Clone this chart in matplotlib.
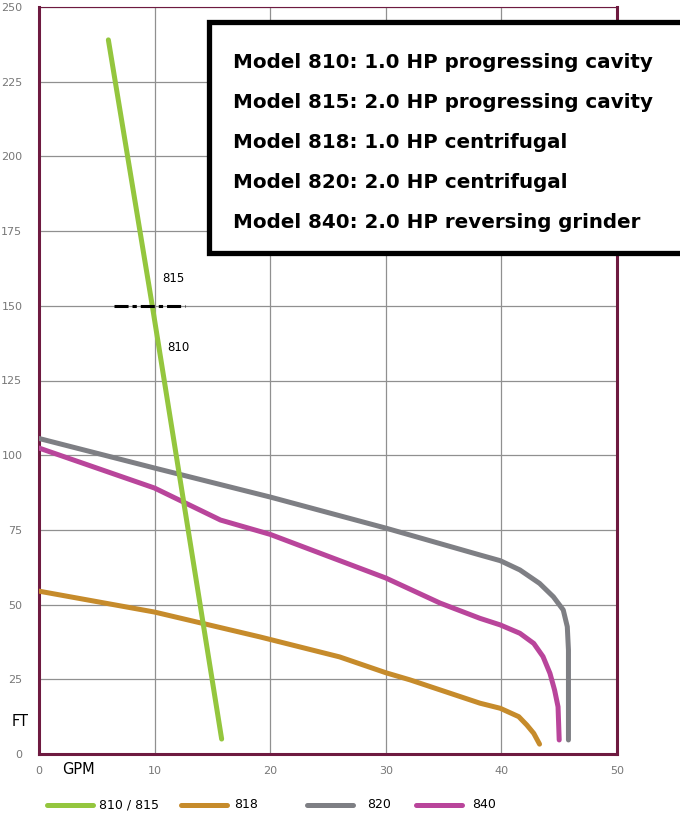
import numpy as np
import matplotlib.pyplot as plt
from matplotlib.patches import Rectangle
from matplotlib.lines import Line2D

# curve points (GPM, FT)
gpm_810 = [6.0, 9.8, 15.8]
ft_810 = [239, 150, 5]

gpm_818 = [0, 10, 19.1, 26, 30, 32.1, 38.15, 39.9, 41.5, 42.2, 42.8, 43.3]
ft_818 = [54.5, 47.5, 39.2, 32.5, 27.2, 24.8, 17.0, 15.3, 12.5, 9.7, 6.9, 3.3]

gpm_820 = [0, 10, 20, 30, 38.15, 39.9, 41.6, 43.3, 44.5, 45.35, 45.7, 45.8, 45.8]
ft_820 = [105.6, 95.7, 86, 75.6, 66.6, 64.7, 61.6, 57.1, 52.6, 48.2, 42.6, 34.8, 4.7]

gpm_840 = [0, 10, 15.7, 20, 30, 34.7, 38.15, 39.9, 41.6, 42.8, 43.6, 44.2, 44.6, 44.9, 45.0]
ft_840 = [102.4, 89, 78.3, 73.5, 58.9, 50.5, 45.4, 43.2, 40.4, 37.0, 32.6, 27.0, 21.4, 15.8, 4.7]

split_x = [6.5, 12.6]
split_y = 150

models = ["Model 810: 1.0 HP progressing cavity",
          "Model 815: 2.0 HP progressing cavity",
          "Model 818: 1.0 HP centrifugal",
          "Model 820: 2.0 HP centrifugal",
          "Model 840: 2.0 HP reversing grinder"]

legend_labels = ["810 / 815", "818", "820", "840"]

green = "#94c63e"
orange = "#c68b2b"
grey = "#7e7f84"
magenta = "#b9459b"
maroon = "#6e1a40"

fig = plt.figure(figsize=(6.8, 8.14), dpi=100)
ax = fig.add_axes([39 / 680, 1 - 754 / 814, (617 - 39) / 680, (754 - 7) / 814])
ax.set_xlim(0, 50)
ax.set_ylim(0, 250)
ax.set_xticks(range(0, 51, 10))
ax.set_yticks(range(0, 251, 25))
ax.grid(True, color="#909090", linewidth=0.9)
ax.tick_params(length=0, labelsize=8, labelcolor="#777777")
ax.tick_params(axis="x", pad=9)
ax.tick_params(axis="y", pad=12)
for s in ["left", "right", "bottom"]:
    ax.spines[s].set_color(maroon)
    ax.spines[s].set_linewidth(2.2)
ax.spines["top"].set_color(maroon)
ax.spines["top"].set_linewidth(0.8)

kw = dict(linewidth=3.6, solid_capstyle="round", solid_joinstyle="round", zorder=3)
ax.plot(gpm_818, ft_818, color=orange, **kw)
ax.plot(gpm_820, ft_820, color=grey, **kw)
ax.plot(gpm_840, ft_840, color=magenta, **kw)
ax.plot(gpm_810, ft_810, color=green, **kw)

ax.plot(split_x, [split_y, split_y], color="black", linewidth=2.2,
        dashes=[4.6, 1.3, 1.4, 1.3], zorder=4)
ax.text(10.7, 159, "815", fontsize=8.5, ha="left", va="center")
ax.text(11.1, 136, "810", fontsize=8.5, ha="left", va="center")

fig.text(20 / 680, 1 - 722 / 814, "FT", fontsize=10.5, ha="center", va="center")
fig.text(78 / 680, 1 - 770 / 814, "GPM", fontsize=10.5, ha="center", va="center")

# model box
box = Rectangle((209 / 680, 1 - 253 / 814), 480 / 680, 231 / 814,
                transform=fig.transFigure, facecolor="white",
                edgecolor="black", linewidth=3.8, clip_on=False, zorder=10)
fig.add_artist(box)
for i, m in enumerate(models):
    fig.text(233 / 680, 1 - (62 + 40 * i) / 814, m, fontsize=14.3,
             fontweight="bold", ha="left", va="center", zorder=11)

# legend row
leg_x = [(47, 93, 99), (181, 227, 234), (307, 353, 367), (416, 462, 472)]
for (x0, x1, tx), lab, c in zip(leg_x, legend_labels, [green, orange, grey, magenta]):
    y = 1 - 805 / 814
    fig.add_artist(Line2D([x0 / 680, x1 / 680], [y, y], color=c, linewidth=3.6,
                          solid_capstyle="round", transform=fig.transFigure))
    fig.text(tx / 680, y, lab, fontsize=9, ha="left", va="center")

fig.savefig("out.png", dpi=100)
